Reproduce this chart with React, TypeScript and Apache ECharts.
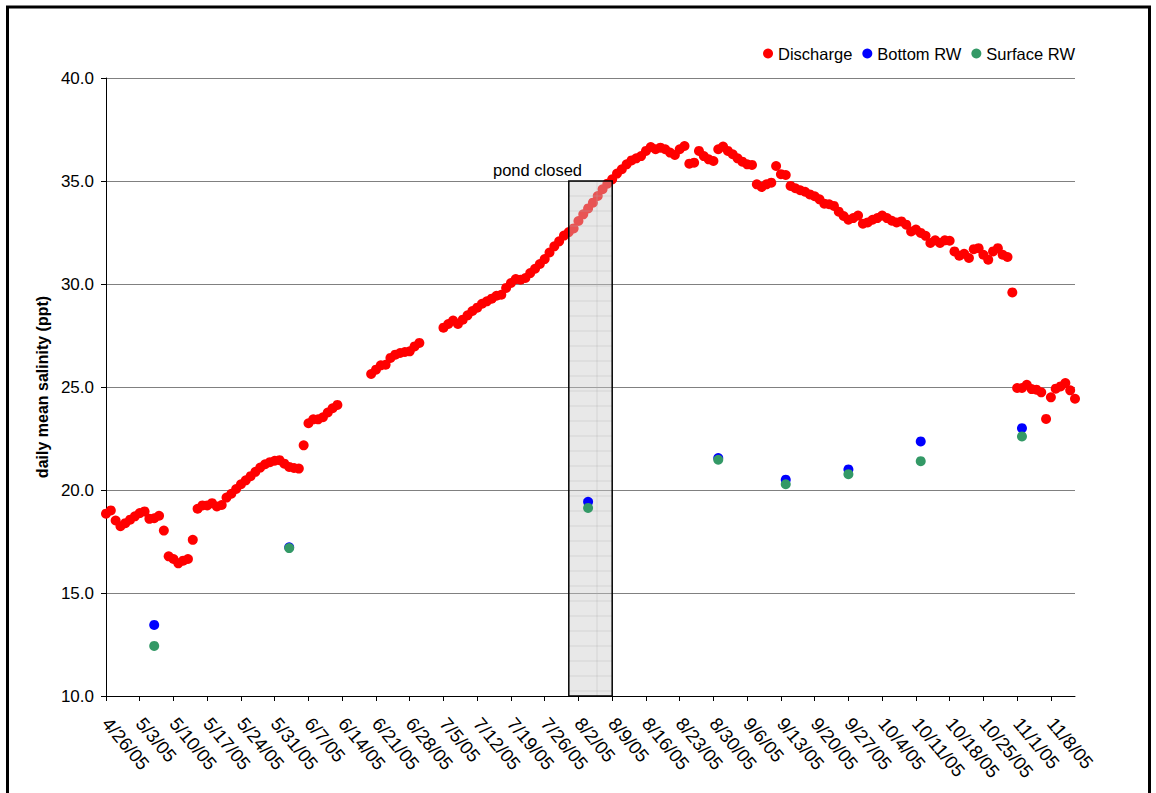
import React, { useEffect, useRef } from "react";
import * as echarts from "echarts";

// ---------- data ----------
const startDate = "4/26/05"; // day 0 of the discharge record
// daily mean salinity of discharge, one value per day from 4/26/05 (null = no data)
const discharge: (number | null)[] = [
  18.85, 19.01, 18.52, 18.24, 18.39, 18.56, 18.72, 18.88, 18.96, 18.6,
  18.63, 18.75, 18.03, 16.78, 16.65, 16.44, 16.57, 16.65, 17.58, 19.09,
  19.25, 19.25, 19.36, 19.2, 19.27, 19.63, 19.82, 20.05, 20.28, 20.47,
  20.67, 20.88, 21.09, 21.25, 21.35, 21.42, 21.45, 21.28, 21.12, 21.07,
  21.04, 22.17, 23.24, 23.43, 23.43, 23.53, 23.76, 23.97, 24.13, null,
  null, null, null, null, null, 25.63, 25.84, 26.05, 26.08, 26.41,
  26.57, 26.65, 26.7, 26.73, 26.97, 27.14, null, null, null, null,
  27.88, 28.06, 28.23, 28.06, 28.27, 28.48, 28.69, 28.85, 29.04, 29.16,
  29.29, 29.43, 29.48, 29.81, 30.05, 30.24, 30.21, 30.29, 30.53, 30.74,
  30.97, 31.21, 31.53, 31.83, 32.07, 32.35, 32.52, 32.7, 33.06, 33.38,
  33.67, 33.95, 34.27, 34.6, 34.87, 35.08, 35.36, 35.57, 35.81, 36.0,
  36.1, 36.21, 36.46, 36.65, 36.54, 36.62, 36.54, 36.38, 36.26, 36.54,
  36.7, 35.84, 35.89, 36.46, 36.21, 36.05, 35.97, 36.54, 36.67, 36.46,
  36.3, 36.1, 35.94, 35.81, 35.78, 34.84, 34.71, 34.84, 34.92, 35.73,
  35.33, 35.29, 34.76, 34.65, 34.55, 34.48, 34.35, 34.26, 34.11, 33.9,
  33.87, 33.79, 33.51, 33.3, 33.12, 33.2, 33.32, 32.93, 32.99, 33.12,
  33.2, 33.32, 33.2, 33.07, 32.99, 33.04, 32.88, 32.55, 32.64, 32.48,
  32.34, 31.99, 32.12, 31.99, 32.12, 32.1, 31.58, 31.37, 31.47, 31.26,
  31.69, 31.74, 31.42, 31.18, 31.58, 31.74, 31.42, 31.31, 29.59, 24.95,
  24.95, 25.11, 24.9, 24.87, 24.74, 23.45, 24.5, 24.92, 25.03, 25.19,
  24.84, 24.43,
];

const rwDates = ["5/6/05", "6/3/05", "8/4/05", "8/31/05", "9/14/05", "9/27/05", "10/12/05", "11/2/05"];
const bottomRW = [13.45, 17.22, 19.43, 21.55, 20.5, 21.0, 22.36, 23.0];
const surfaceRW = [12.43, 17.18, 19.13, 21.47, 20.28, 20.77, 21.4, 22.6];

const tickLabels = [
  "4/26/05", "5/3/05", "5/10/05", "5/17/05", "5/24/05", "5/31/05", "6/7/05", "6/14/05",
  "6/21/05", "6/28/05", "7/5/05", "7/12/05", "7/19/05", "7/26/05", "8/2/05", "8/9/05",
  "8/16/05", "8/23/05", "8/30/05", "9/6/05", "9/13/05", "9/20/05", "9/27/05", "10/4/05",
  "10/11/05", "10/18/05", "10/25/05", "11/1/05", "11/8/05",
];
const axisEnd = "11/13/05";
const yTicks = [10, 15, 20, 25, 30, 35, 40];

const pondClosedStart = "7/31/05";
const pondClosedEnd = "8/9/05";
const pondClosedLow = 10;
const pondClosedHigh = 35;
const pondLabel = "pond closed";

// ---------- helpers ----------
const DAY = 86400000;
function parseDate(s: string): number {
  const [m, d, y] = s.split("/").map(Number);
  return Date.UTC(2000 + y, m - 1, d);
}
const t0 = parseDate(startDate);
const dayOf = (s: string) => Math.round((parseDate(s) - t0) / DAY);
const labelOf = (v: number) => {
  const dt = new Date(t0 + Math.round(v) * DAY);
  return `${dt.getUTCMonth() + 1}/${dt.getUTCDate()}/${String(dt.getUTCFullYear()).slice(2)}`;
};

const FONT = "'Liberation Sans', Arial, sans-serif";

export default function App() {
  const ref = useRef<HTMLDivElement>(null);

  useEffect(() => {
    if (!ref.current) return;
    const chart = echarts.init(ref.current, undefined, { renderer: "svg" });

    const dischargeData = discharge
      .map((v, i) => (v == null ? null : [i, v]))
      .filter((p) => p !== null);
    const bottomData = rwDates.map((d, i) => [dayOf(d), bottomRW[i]]);
    const surfaceData = rwDates.map((d, i) => [dayOf(d), surfaceRW[i]]);
    const tickDays = tickLabels.map(dayOf);

    const pondRender = (params: any, api: any) => {
      const p0 = api.coord([api.value(0), api.value(3)]);
      const p1 = api.coord([api.value(1), api.value(2)]);
      const x = p0[0];
      const y = p0[1];
      const w = p1[0] - p0[0];
      const h = p1[1] - p0[1];
      const children: any[] = [
        {
          type: "rect",
          shape: { x, y, width: w, height: h },
          style: { fill: "rgba(200,200,200,0.42)", stroke: null },
        },
      ];
      // faint texture lines of the fill pattern
      for (let yy = y + 15; yy < y + h - 2; yy += 15) {
        children.push({
          type: "line",
          shape: { x1: x, y1: yy, x2: x + w, y2: yy },
          style: { stroke: "rgba(175,175,175,0.35)", lineWidth: 1 },
        });
      }
      children.push({
        type: "line",
        shape: { x1: x + w * 0.65, y1: y, x2: x + w * 0.65, y2: y + h },
        style: { stroke: "rgba(175,175,175,0.35)", lineWidth: 1 },
      });
      children.push({
        type: "rect",
        shape: { x, y, width: w, height: h },
        style: { fill: "none", stroke: "#000", lineWidth: 1.5 },
      });
      children.push({
        type: "text",
        style: {
          text: pondLabel,
          x: x + w / 2 - 53,
          y: y - 3,
          align: "center",
          verticalAlign: "bottom",
          textAlign: "center",
          textVerticalAlign: "bottom",
          fontSize: 16.5,
          fontFamily: FONT,
          fill: "#000",
        },
      });
      return { type: "group", children };
    };

    chart.setOption({
      animation: false,
      backgroundColor: "#fff",
      textStyle: { fontFamily: FONT },
      graphic: [
        {
          type: "rect",
          silent: true,
          z: 100,
          shape: { x: 7.5, y: 7, width: 1142, height: 820 },
          style: { fill: "none", stroke: "#000", lineWidth: 3 },
        },
      ],
      legend: {
        data: ["Discharge", "Bottom RW", "Surface RW"],
        right: 76,
        top: 40,
        icon: "circle",
        itemWidth: 10,
        itemHeight: 10,
        itemGap: 10,
        textStyle: { fontSize: 16.5, color: "#000", fontFamily: FONT },
      },
      grid: { left: 106, right: 81, top: 78, bottom: 97, containLabel: false },
      xAxis: {
        type: "value",
        min: 0,
        max: dayOf(axisEnd),
        interval: 7,
        splitLine: { show: false },
        axisLine: { show: true, onZero: false, lineStyle: { color: "#000", width: 1 } },
        axisTick: { show: true, length: 5, lineStyle: { color: "#000" }, customValues: tickDays },
        axisLabel: {
          customValues: tickDays,
          formatter: (v: number) => labelOf(v),
          rotate: -50,
          fontSize: 18.5,
          color: "#000",
          margin: 24,
          fontFamily: FONT,
        },
      },
      yAxis: {
        type: "value",
        min: yTicks[0],
        max: yTicks[yTicks.length - 1],
        interval: yTicks[1] - yTicks[0],
        name: "daily mean salinity (ppt)",
        nameLocation: "middle",
        nameGap: 53,
        nameTextStyle: { fontSize: 16, fontWeight: "bold", color: "#000", fontFamily: FONT },
        axisLine: { show: true, lineStyle: { color: "#000", width: 1 } },
        axisTick: { show: true, length: 5, lineStyle: { color: "#000" } },
        axisLabel: {
          formatter: (v: number) => v.toFixed(1),
          fontSize: 17,
          color: "#000",
          margin: 12,
          fontFamily: FONT,
        },
        splitLine: { show: true, lineStyle: { color: "#808080", width: 1.2 } },
      },
      series: [
        {
          name: "Discharge",
          type: "scatter",
          data: dischargeData,
          symbol: "circle",
          symbolSize: 10,
          itemStyle: { color: "#ff0000", opacity: 1 },
          z: 2,
        },
        {
          type: "custom",
          z: 3,
          silent: true,
          clip: false,
          data: [[dayOf(pondClosedStart), dayOf(pondClosedEnd), pondClosedLow, pondClosedHigh]],
          encode: { x: [0, 1], y: [2, 3] },
          renderItem: pondRender,
        },
        {
          name: "Bottom RW",
          type: "scatter",
          data: bottomData,
          symbol: "circle",
          symbolSize: 10,
          itemStyle: { color: "#0000ff", opacity: 1 },
          z: 4,
        },
        {
          name: "Surface RW",
          type: "scatter",
          data: surfaceData,
          symbol: "circle",
          symbolSize: 10,
          itemStyle: { color: "#339966", opacity: 1 },
          z: 5,
        },
      ],
    });

    return () => chart.dispose();
  }, []);

  return (
    <div
      ref={ref}
      style={{ position: "fixed", left: 0, top: 0, width: 1156, height: 793, background: "#fff" }}
    />
  );
}
